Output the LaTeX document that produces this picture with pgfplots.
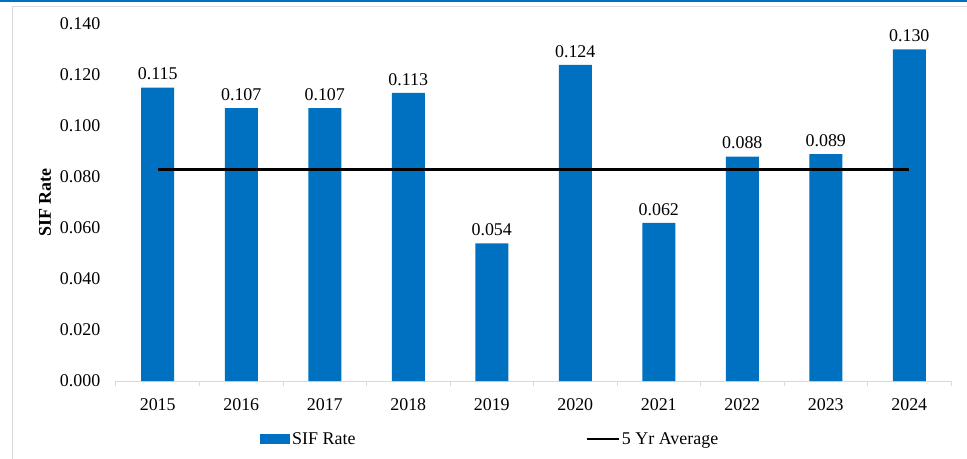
\documentclass[border=0pt]{standalone}
\usepackage{fontspec}
\setmainfont{Liberation Serif}
\usepackage{pgfplots}
\pgfplotsset{compat=1.18}
\definecolor{barblue}{HTML}{0070C0}
\definecolor{framegray}{HTML}{D9D9D9}
\newcommand{\fs}{\fontsize{18}{21}\selectfont}

\begin{document}
\begin{tikzpicture}
% picture area: the axis box's lower left corner is the origin
\useasboundingbox (-116bp,-78bp) rectangle (851bp,381bp);
\fill[barblue] (-116bp,379bp) rectangle (851bp,381bp);
\draw[framegray, line width=1bp] (-103.5bp,-78bp) -- (-103.5bp,374.5bp) -- (851bp,374.5bp);
\begin{axis}[
  at={(0bp,0bp)}, anchor=south west,
  scale only axis,
  width=835bp, height=357bp,
  xmin=-0.5, xmax=9.5,
  ymin=0, ymax=0.14,
  axis x line*=bottom, axis y line*=left,
  x axis line style={draw=framegray, line width=1bp},
  y axis line style={draw=none},
  xtick={0,...,9},
  xticklabels={2015,2016,2017,2018,2019,2020,2021,2022,2023,2024},
  major x tick style={draw=none},
  minor xtick={-0.5,0.5,1.5,2.5,3.5,4.5,5.5,6.5,7.5,8.5,9.5},
  minor tick length=5bp,
  minor x tick style={draw=framegray, line width=1bp},
  tick align=outside,
  ytick={0,0.02,0.04,0.06,0.08,0.1,0.12,0.14},
  ytick style={draw=none},
  scaled y ticks=false,
  yticklabel style={xshift=-8bp, /pgf/number format/.cd, fixed, fixed zerofill, precision=3},
  xticklabel style={yshift=-10bp},
  /pgf/number format/assume math mode=true,
  tick label style={font=\fs},
  ylabel={\textbf{SIF Rate}},
  ylabel style={font=\fs, at={(axis description cs:-0.085,0.5)}, anchor=center},
  legend columns=2,
  legend style={draw=none, fill=none, font=\fs, inner sep=0pt,
    at={(axis description cs:0.1725,-0.162)}, anchor=west,
    /tikz/every even column/.append style={column sep=228bp}},
  clip=false,
]
\addplot[ybar, bar width=33bp, fill=barblue, draw=none,
  nodes near coords={\pgfmathprintnumber[fixed,fixed zerofill,precision=3,assume math mode=true]{\pgfplotspointmeta}},
  every node near coord/.append style={font=\fs, text=black, yshift=4bp},
  legend image code/.code={\fill[barblue] (0bp,-5bp) rectangle (30bp,5bp);}]
  coordinates {(0,0.115) (1,0.107) (2,0.107) (3,0.113) (4,0.054) (5,0.124) (6,0.062) (7,0.088) (8,0.089) (9,0.130)};
\addlegendentry{SIF Rate}
\addplot[black, line width=2.5bp,
  legend image code/.code={\draw[black, line width=2.5bp] (0bp,0bp) -- (32bp,0bp);}]
  coordinates {(0,0.083) (9,0.083)};
\addlegendentry{5 Yr Average}
\end{axis}
\end{tikzpicture}
\end{document}
